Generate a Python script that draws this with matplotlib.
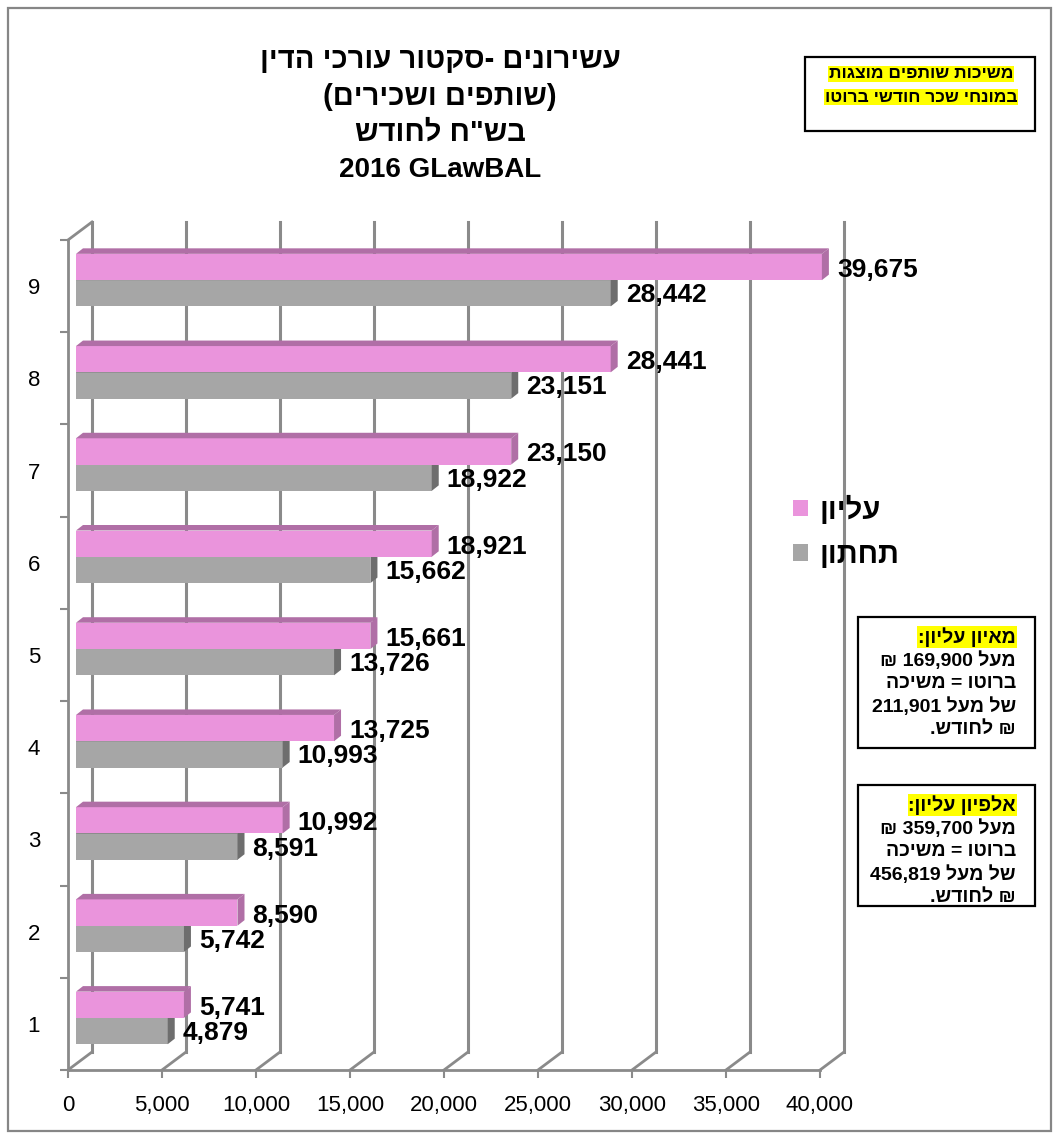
import re
import matplotlib
matplotlib.use('Agg')
import matplotlib.pyplot as plt
from matplotlib.patches import Rectangle, Polygon
from matplotlib.lines import Line2D

FONTS = ['Liberation Sans', 'DejaVu Sans']
plt.rcParams['font.family'] = FONTS

# deciles, upper and lower bound of monthly draw (NIS)
categories = ['1', '2', '3', '4', '5', '6', '7', '8', '9']
upper = [5741, 8590, 10992, 13725, 15661, 18921, 23150, 28441, 39675]
lower = [4879, 5742, 8591, 10993, 13726, 15662, 18922, 23151, 28442]
series_names = ['עליון', 'תחתון']
xticks = list(range(0, 40001, 5000))

title_lines = ['עשירונים -סקטור עורכי הדין', '(שותפים ושכירים)', 'בש"ח לחודש', 'GLawBAL 2016']
note_top = ['משיכות שותפים מוצגות', 'במונחי שכר חודשי ברוטו']
note_pct = ['מאיון עליון:', 'מעל 169,900 ₪', 'ברוטו = משיכה', 'של מעל 211,901', '₪ לחודש.']
note_pml = ['אלפיון עליון:', 'מעל 359,700 ₪', 'ברוטו = משיכה', 'של מעל 456,819', '₪ לחודש.']

PINK, PINK_DARK = '#EA94DC', '#B06FA6'
GRAY, GRAY_DARK = '#A6A6A6', '#6E6E6E'
GRID = '#8A8A8A'


def vis(s):
    # matplotlib lays text out left to right, so flip RTL lines by hand,
    # keeping digit / latin runs in their own order
    tokens = re.findall(r'[0-9A-Za-z][0-9A-Za-z,.]*[0-9A-Za-z]|[0-9A-Za-z]|.', s)
    mirror = {'(': ')', ')': '('}
    return ''.join(mirror.get(t, t) for t in reversed(tokens))


W, H = 1059, 1138
fig = plt.figure(figsize=(W / 100, H / 100), dpi=100)


def fx(px):
    return px / W


def fy(py):
    return 1 - py / H


AX_L, AX_R, AX_T, AX_B = 68, 820, 240, 1070
ax = fig.add_axes([fx(AX_L), fy(AX_B), (AX_R - AX_L) / W, (AX_B - AX_T) / H])
ax.set_xlim(0, 40000)
ax.set_ylim(0, len(categories))
xu = 40000 / (AX_R - AX_L)          # data units per pixel
yu = len(categories) / (AX_B - AX_T)

# back wall and floor of the 3d box
back_dx, back_dy = 24 * xu, 18 * yu
for t in xticks:
    ax.plot([t + back_dx] * 2, [back_dy, len(categories) + back_dy], color=GRID, lw=2.2,
            clip_on=False, zorder=1)
    ax.plot([t, t + back_dx], [0, back_dy], color=GRID, lw=2, clip_on=False, zorder=1)
ax.plot([0, back_dx], [len(categories), len(categories) + back_dy], color=GRID, lw=2,
        clip_on=False, zorder=1)

# bars with a little depth: front face, top face and side face
off = 8 * xu
dx, dy = 7 * xu, 5.5 * yu
bar_h = 0.285
ypos = [i + 0.5 for i in range(len(categories))]


def faces(y0, v, col, z):
    top = Polygon([(off, y0 + bar_h), (off + v, y0 + bar_h), (off + v + dx, y0 + bar_h + dy),
                   (off + dx, y0 + bar_h + dy)], closed=True, color=col, lw=0, zorder=z,
                  clip_on=False)
    side = Polygon([(off + v, y0), (off + v, y0 + bar_h), (off + v + dx, y0 + bar_h + dy),
                    (off + v + dx, y0 + dy)], closed=True, color=col, lw=0, zorder=z,
                   clip_on=False)
    ax.add_patch(top)
    ax.add_patch(side)


gray_y = [c - 0.22 for c in ypos]
pink_y = [c + 0.065 for c in ypos]
gray_bars = ax.barh(gray_y, lower, height=bar_h, left=off, align='edge', color=GRAY, zorder=3,
                    clip_on=False)
for y0, v in zip(gray_y, lower):
    faces(y0, v, GRAY_DARK, 3)
pink_bars = ax.barh(pink_y, upper, height=bar_h, left=off, align='edge', color=PINK, zorder=4,
                    clip_on=False)
for y0, v in zip(pink_y, upper):
    faces(y0, v, PINK_DARK, 4)

for y0, v in zip(gray_y, lower):
    ax.text(off + v + 15 * xu, y0 + bar_h / 2 - 2 * yu, f'{v:,}', ha='left', va='center',
            fontsize=19, fontweight='bold', zorder=6)
for y0, v in zip(pink_y, upper):
    ax.text(off + v + 15 * xu, y0 + bar_h / 2 - 3 * yu, f'{v:,}', ha='left', va='center',
            fontsize=19, fontweight='bold', zorder=6)

# axes
for s in ['top', 'right']:
    ax.spines[s].set_visible(False)
for s in ['left', 'bottom']:
    ax.spines[s].set_color(GRID)
    ax.spines[s].set_linewidth(2)
    ax.spines[s].set_zorder(2)
ax.set_xticks(xticks)
ax.set_xticklabels([f'{t:,}' for t in xticks], fontsize=16)
ax.tick_params(axis='x', length=6, width=1.5, color=GRID, pad=12)
ax.set_yticks(ypos)
ax.set_yticklabels(categories, fontsize=16)
ax.tick_params(axis='y', which='major', length=0, pad=20)
ax.set_yticks(range(len(categories) + 1), minor=True)
ax.tick_params(axis='y', which='minor', length=6, width=1.5, color=GRID)
ax.patch.set_alpha(0)

ax.legend([pink_bars, gray_bars], [vis(n) for n in series_names], loc='center left',
          bbox_to_anchor=(fx(793), fy(532)), bbox_transform=fig.transFigure, frameon=False,
          prop=dict(weight='bold', size=21, family=FONTS), handlelength=0.5, handleheight=0.5,
          handletextpad=0.4, labelspacing=0.55, borderpad=0, borderaxespad=0)

# title
for line, y, size in zip(title_lines, [60, 97, 133, 170], [21, 21, 21, 20]):
    fig.text(fx(440), fy(y), vis(line), ha='center', va='center', fontsize=size,
             fontweight='bold')

# notes
fig.add_artist(Rectangle((fx(805), fy(131)), 230 / W, 74 / H, transform=fig.transFigure,
                         fill=False, edgecolor='black', lw=1.6))
for line, y in zip(note_top, [74, 97]):
    fig.text(fx(921), fy(y), vis(line), ha='center', va='center', fontsize=12.5,
             fontweight='bold', bbox=dict(facecolor='yellow', edgecolor='none', pad=0.5))

headers = []
for lines, top, box_h in [(note_pct, 617, 131), (note_pml, 785, 121)]:
    fig.add_artist(Rectangle((fx(858), fy(top + box_h)), 177 / W, box_h / H,
                             transform=fig.transFigure, fill=False, edgecolor='black', lw=1.6))
    for k, line in enumerate(lines):
        kw = dict(bbox=dict(facecolor='yellow', edgecolor='none', pad=0.5)) if k == 0 else {}
        t = fig.text(fx(1016), fy(top + 20 + 23.2 * k), vis(line), ha='right', va='center',
                     fontsize=14, fontweight='bold', **kw)
        if k == 0:
            headers.append(t)

# frame round the whole chart
fig.add_artist(Rectangle((fx(8), fy(1131)), 1043 / W, 1123 / H, transform=fig.transFigure,
                         fill=False, edgecolor='#868686', lw=1.6))

fig.canvas.draw()
inv = fig.transFigure.inverted()
for t in headers:
    bb = t.get_window_extent().transformed(inv)
    fig.add_artist(Line2D([bb.x0, bb.x1], [bb.y0 + 1 / H] * 2, transform=fig.transFigure,
                          color='black', lw=1.2))

fig.savefig('out.png', dpi=100)
